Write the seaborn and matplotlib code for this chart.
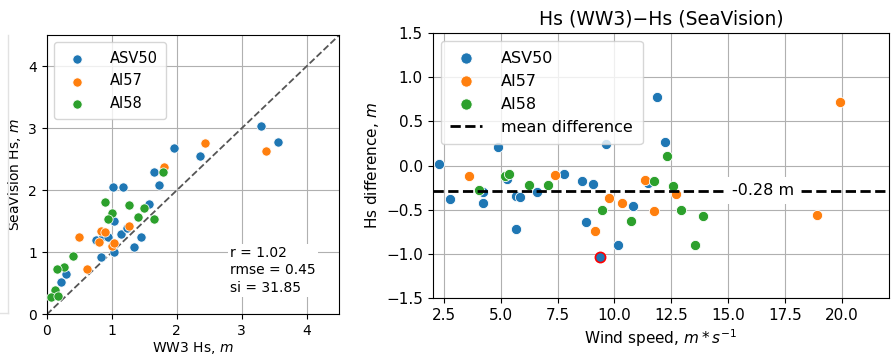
import numpy as np
import pandas as pd
import matplotlib
matplotlib.use("Agg")
import matplotlib.pyplot as plt
import seaborn as sns

# --- left panel: WW3 Hs vs SeaVision Hs ---
asv50_ww3 = [3.55, 3.30, 2.35, 1.95, 1.65, 1.72, 1.02, 1.17, 1.57, 1.04, 1.14,
             1.24, 1.45, 1.34, 0.76, 0.87, 0.95, 0.83, 1.04, 0.30, 0.22]
asv50_sv = [2.77, 3.03, 2.55, 2.68, 2.30, 2.08, 2.05, 2.06, 1.78, 1.50, 1.29,
            1.40, 1.24, 1.09, 1.20, 1.26, 1.24, 0.93, 1.01, 0.65, 0.52]
ai57_ww3 = [3.37, 2.44, 1.80, 1.26, 0.50, 0.83, 0.90, 0.80, 1.01, 1.03, 0.62]
ai57_sv = [2.64, 2.76, 2.38, 1.43, 1.25, 1.35, 1.33, 1.16, 1.11, 1.15, 0.73]
ai58_ww3 = [1.79, 0.90, 1.27, 1.49, 1.00, 0.95, 1.40, 1.65, 0.41, 0.27, 0.16,
            0.13, 0.06, 0.18]
ai58_sv = [2.29, 1.81, 1.76, 1.72, 1.63, 1.54, 1.57, 1.54, 0.94, 0.76, 0.73,
           0.40, 0.28, 0.30]
stats_text = "r = 1.02\nrmse = 0.45\nsi = 31.85"

# --- right panel: Hs difference vs wind speed ---
asv50_wind = [2.26, 2.78, 4.21, 4.21, 4.86, 5.27, 5.69, 5.85, 5.66, 6.60, 7.80,
              8.57, 9.05, 8.74, 9.37, 9.62, 10.15, 10.84, 11.50, 11.89, 12.24]
asv50_diff = [0.02, -0.38, -0.30, -0.42, 0.21, -0.15, -0.34, -0.35, -0.72, -0.30, -0.09,
              -0.17, -0.21, -0.64, -1.03, 0.25, -0.89, -0.46, -0.20, 0.78, 0.27]
ai57_wind = [3.61, 7.39, 9.15, 9.78, 10.34, 11.36, 11.75, 12.71, 18.94, 19.93]
ai57_diff = [-0.12, -0.10, -0.74, -0.36, -0.42, -0.16, -0.51, -0.32, -0.56, 0.72]
ai58_wind = [4.04, 5.19, 5.38, 6.25, 7.07, 9.46, 10.73, 11.73, 12.32, 12.57,
             12.93, 13.54, 13.89]
ai58_diff = [-0.27, -0.12, -0.09, -0.22, -0.22, -0.50, -0.63, -0.17, 0.11, -0.23,
             -0.50, -0.90, -0.57]
highlight_idx = 14  # ASV50 point drawn with a red edge
mean_diff = -0.28

stations = ["ASV50", "AI57", "AI58"]
colors = sns.color_palette("tab10", 3)

left_groups = [(asv50_ww3, asv50_sv), (ai57_ww3, ai57_sv), (ai58_ww3, ai58_sv)]
right_groups = [(asv50_wind, asv50_diff), (ai57_wind, ai57_diff), (ai58_wind, ai58_diff)]

fig = plt.figure(figsize=(8.93, 3.54), dpi=100)

# faint frame left over from a neighbouring panel
fig.add_artist(plt.Line2D([0.0093, 0.0093], [0.115, 0.90], transform=fig.transFigure,
                          color="#e2e2e2", lw=1))
fig.add_artist(plt.Line2D([0.0, 0.0093], [0.115, 0.115], transform=fig.transFigure,
                          color="#e2e2e2", lw=1))

# left scatter
ax1 = fig.add_axes([0.0523, 0.1116, 0.3277, 0.7895])
for name, col, (x, y) in zip(stations, colors, left_groups):
    sns.scatterplot(x=x, y=y, ax=ax1, color=col, s=44, label=name, zorder=3)
lim = [0, 4.5]
ax1.plot(lim, lim, ls="--", color="#555555", lw=1.3, zorder=2)
ax1.set_xlim(lim)
ax1.set_ylim(lim)
ax1.set_xticks([0, 1, 2, 3, 4])
ax1.set_yticks([0, 1, 2, 3, 4])
ax1.grid(True, color="#b0b0b0", lw=0.8)
ax1.set_axisbelow(True)
ax1.tick_params(labelsize=10)
ax1.set_xlabel("WW3 Hs, $m$", fontsize=10, labelpad=1)
ax1.set_ylabel("SeaVision Hs, $m$", fontsize=10, labelpad=4)
ax1.legend(loc="upper left", fontsize=10.5, handletextpad=1.2, borderpad=0.6)
ax1.text(2.82, 0.71, stats_text, fontsize=10, va="center", ha="left", linespacing=1.3,
         bbox=dict(facecolor="white", edgecolor="none", pad=1.5), zorder=4)

# right scatter
ax2 = fig.add_axes([0.4845, 0.1568, 0.5113, 0.75])
for name, col, (x, y) in zip(stations, colors, right_groups):
    sns.scatterplot(x=x, y=y, ax=ax2, color=col, s=54, label=name, zorder=3)
sns.scatterplot(x=[asv50_wind[highlight_idx]], y=[asv50_diff[highlight_idx]], ax=ax2,
                color=colors[0], edgecolor="red", linewidth=1.2, s=54, zorder=3)
ax2.axhline(mean_diff, color="black", ls="--", lw=2, label="mean difference", zorder=4)
ax2.text(16.55, mean_diff, f"{mean_diff:.2f} m", fontsize=11.5,
         ha="center", va="center",
         bbox=dict(facecolor="white", edgecolor="none", pad=4), zorder=5)
ax2.set_xlim(2.0, 22.1)
ax2.set_ylim(-1.5, 1.5)
ax2.set_xticks(np.arange(2.5, 20.1, 2.5))
ax2.set_yticks(np.arange(-1.5, 1.51, 0.5))
ax2.grid(True, color="#b0b0b0", lw=0.8)
ax2.set_axisbelow(True)
ax2.tick_params(labelsize=11)
ax2.set_title("Hs (WW3)\u2212Hs (SeaVision)", fontsize=13.5)
ax2.set_xlabel("Wind speed, $m*s^{-1}$", fontsize=11, labelpad=3)
ax2.set_ylabel("Hs difference, $m$", fontsize=11)
ax2.legend(loc="upper left", fontsize=11.5, markerscale=1.1, handletextpad=1.2,
           borderpad=0.6)

fig.savefig("out.png", dpi=100)
